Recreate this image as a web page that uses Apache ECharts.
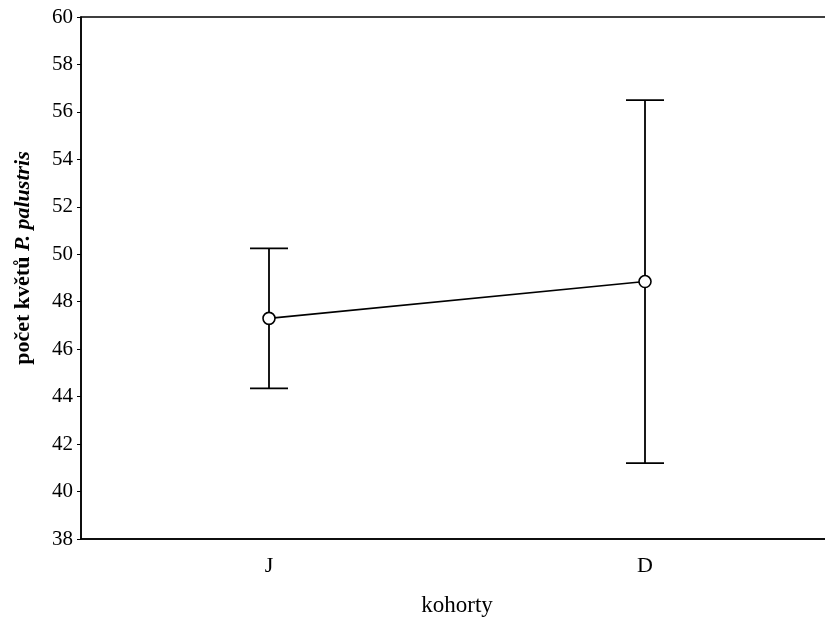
<!DOCTYPE html>
<html>
<head>
<meta charset="utf-8">
<script src="https://cdn.jsdelivr.net/npm/echarts@6/dist/echarts.min.js"></script>
<style>
  html, body { margin: 0; padding: 0; background: #fff; }
  #chart { width: 825px; height: 620px; }
</style>
</head>
<body>
<div id="chart"></div>
<script>
// Cohorts and mean flower counts with their interval bounds
const categories = ['J', 'D'];
const means = [47.3, 48.85];
const upper = [50.25, 56.5];
const lower = [44.35, 41.2];
const yTicks = [38, 40, 42, 44, 46, 48, 50, 52, 54, 56, 58, 60];

const serif = '"Liberation Serif", "Times New Roman", serif';
const chart = echarts.init(document.getElementById('chart'));

const errData = categories.map((c, i) => [i, lower[i], upper[i]]);

chart.setOption({
  animation: false,
  backgroundColor: '#fff',
  grid: {
    left: 81, top: 17, height: 522, width: 752,
    outerBoundsMode: 'none',
    containLabel: false,
    show: true, borderColor: '#000', borderWidth: 1.5, backgroundColor: 'transparent'
  },
  xAxis: [{
    type: 'category',
    data: categories,
    boundaryGap: true,
    name: 'kohorty',
    nameLocation: 'middle',
    nameGap: 55,
    nameTextStyle: { fontFamily: serif, fontSize: 23, color: '#000' },
    axisLine: { lineStyle: { color: '#000', width: 1.5 } },
    axisTick: { inside: true, length: 5, alignWithLabel: true, lineStyle: { color: '#000' } },
    axisLabel: { fontFamily: serif, fontSize: 22, color: '#000', margin: 16 }
  }, {
    type: 'category',
    data: categories,
    position: 'top',
    boundaryGap: true,
    axisLine: { show: false },
    axisTick: { inside: true, length: 4, alignWithLabel: true, lineStyle: { color: '#000' } },
    axisLabel: { show: false }
  }],
  yAxis: {
    type: 'value',
    min: 38, max: 60, interval: 2,
    name: '{b|počet květů }{bi|P. palustris}',
    nameLocation: 'middle',
    nameRotate: 90,
    nameGap: 47,
    nameTextStyle: {
      padding: [0, 0, 0, 40],
      rich: {
        b: { fontFamily: serif, fontSize: 22, fontWeight: 'bold', color: '#000' },
        bi: { fontFamily: serif, fontSize: 22, fontWeight: 'bold', fontStyle: 'italic', color: '#000' }
      }
    },
    splitLine: { show: false },
    axisLine: { show: true, lineStyle: { color: '#000', width: 1.5 } },
    axisTick: { show: true, length: 4, lineStyle: { color: '#000' } },
    axisLabel: {
      fontFamily: serif, fontSize: 21, color: '#000', margin: 8,
      formatter: v => (yTicks.includes(v) ? String(v) : '')
    }
  },
  series: [{
    type: 'custom',
    z: 2,
    data: errData,
    renderItem: function (params, api) {
      const x = api.value(0);
      const lo = api.coord([x, api.value(1)]);
      const hi = api.coord([x, api.value(2)]);
      const half = 19;
      const style = { stroke: '#000', lineWidth: 1.8 };
      return {
        type: 'group',
        children: [
          { type: 'line', shape: { x1: lo[0], y1: lo[1], x2: hi[0], y2: hi[1] }, style },
          { type: 'line', shape: { x1: hi[0] - half, y1: hi[1], x2: hi[0] + half, y2: hi[1] }, style },
          { type: 'line', shape: { x1: lo[0] - half, y1: lo[1], x2: lo[0] + half, y2: lo[1] }, style }
        ]
      };
    }
  }, {
    type: 'line',
    z: 5,
    data: means,
    symbol: 'circle',
    symbolSize: 12,
    lineStyle: { color: '#000', width: 1.6 },
    itemStyle: { color: '#fff', borderColor: '#000', borderWidth: 1.6 }
  }]
});
</script>
</body>
</html>
